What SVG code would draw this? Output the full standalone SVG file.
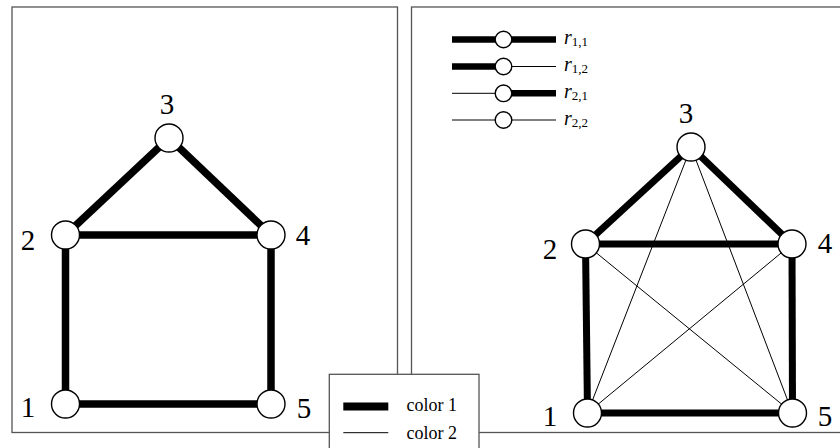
<svg xmlns="http://www.w3.org/2000/svg" width="840" height="448" viewBox="0 0 840 448">
<style>
.panel{fill:#fff;stroke:#555;stroke-width:1.3}
.thick{stroke:#000;stroke-width:7.5;stroke-linecap:butt;fill:none}
.thin{stroke:#000;stroke-width:1;fill:none}
.node{fill:#fff;stroke:#000;stroke-width:1.4}
text{font-family:"Liberation Serif","Times New Roman",Times,serif;fill:#000}
.lbl{font-size:29px;text-anchor:middle}
.leg{font-size:18px}
.r{font-size:20px;font-style:italic}
.sub{font-size:13px;font-style:normal}
</style>
<rect class="panel" x="12" y="7" width="385.5" height="425.5"/>
<rect class="panel" x="411.5" y="7" width="440" height="425.5"/>
<g id="connectors">
  <line class="thick" x1="65.5" y1="404" x2="65.5" y2="235"/>
  <line class="thick" x1="65.5" y1="235" x2="169" y2="138"/>
  <line class="thick" x1="169" y1="138" x2="271" y2="235"/>
  <line class="thick" x1="65.5" y1="235" x2="271" y2="235"/>
  <line class="thick" x1="271" y1="235" x2="271" y2="404"/>
  <line class="thick" x1="65.5" y1="404" x2="271" y2="404"/>
  <line class="thin" x1="691" y1="147" x2="587.5" y2="413"/>
  <line class="thin" x1="691" y1="147" x2="792.5" y2="413"/>
  <line class="thin" x1="585.5" y1="244" x2="792.5" y2="413"/>
  <line class="thin" x1="792" y1="244" x2="587.5" y2="413"/>
  <line class="thick" style="stroke-width:7" x1="587.5" y1="413" x2="585.5" y2="244"/>
  <line class="thick" style="stroke-width:7" x1="585.5" y1="244" x2="691" y2="147"/>
  <line class="thick" style="stroke-width:7" x1="691" y1="147" x2="792" y2="244"/>
  <line class="thick" style="stroke-width:7" x1="585.5" y1="244" x2="792" y2="244"/>
  <line class="thick" style="stroke-width:7" x1="792" y1="244" x2="792.5" y2="413"/>
  <line class="thick" style="stroke-width:7" x1="587.5" y1="413" x2="792.5" y2="413"/>
</g>
<g id="left-n1"><circle class="node" cx="65.5" cy="404" r="14"/><text class="lbl" x="28" y="417">1</text></g>
<g id="left-n2"><circle class="node" cx="65.5" cy="235" r="14"/><text class="lbl" x="28" y="250">2</text></g>
<g id="left-n3"><circle class="node" cx="169" cy="138" r="14"/><text class="lbl" x="167" y="114">3</text></g>
<g id="left-n4"><circle class="node" cx="271" cy="235" r="14"/><text class="lbl" x="303" y="245">4</text></g>
<g id="left-n5"><circle class="node" cx="271" cy="404" r="14"/><text class="lbl" x="304" y="418">5</text></g>
<g id="right-n1"><circle class="node" cx="587.5" cy="413" r="14"/><text class="lbl" x="550" y="426">1</text></g>
<g id="right-n2"><circle class="node" cx="585.5" cy="244" r="14"/><text class="lbl" x="550" y="259">2</text></g>
<g id="right-n3"><circle class="node" cx="691" cy="147" r="14"/><text class="lbl" x="686" y="123">3</text></g>
<g id="right-n4"><circle class="node" cx="792" cy="244" r="14"/><text class="lbl" x="825" y="253">4</text></g>
<g id="right-n5"><circle class="node" cx="792.5" cy="413" r="14"/><text class="lbl" x="825" y="426">5</text></g>
<g id="legend-r">
  <line class="thick" style="stroke-width:6.5" x1="452" y1="39.5" x2="556" y2="39.5"/>
  <circle class="node" cx="503.5" cy="39.5" r="8.3"/>
  <text class="r" x="564" y="44">r<tspan class="sub" dy="2">1,1</tspan></text>
  <line class="thick" style="stroke-width:6.5" x1="452" y1="66.5" x2="504" y2="66.5"/>
  <line class="thin" x1="504" y1="66.5" x2="556" y2="66.5"/>
  <circle class="node" cx="503.5" cy="66.5" r="8.3"/>
  <text class="r" x="564" y="71">r<tspan class="sub" dy="2">1,2</tspan></text>
  <line class="thin" x1="452" y1="93.3" x2="504" y2="93.3"/>
  <line class="thick" style="stroke-width:6.5" x1="504" y1="93.3" x2="556" y2="93.3"/>
  <circle class="node" cx="503.5" cy="93.3" r="8.3"/>
  <text class="r" x="564" y="97.8">r<tspan class="sub" dy="2">2,1</tspan></text>
  <line class="thin" x1="452" y1="120" x2="556" y2="120"/>
  <circle class="node" cx="503.5" cy="120" r="8.3"/>
  <text class="r" x="564" y="124.5">r<tspan class="sub" dy="2">2,2</tspan></text>
</g>
<g id="legend-color">
  <rect class="panel" x="329.3" y="374.3" width="149.7" height="80"/>
  <line class="thick" style="stroke-width:8" x1="343.3" y1="406.5" x2="388.3" y2="406.5"/>
  <text class="leg" x="406.5" y="411">color 1</text>
  <line class="thin" x1="343.3" y1="432.7" x2="388.3" y2="432.7"/>
  <text class="leg" x="406.5" y="438.5">color 2</text>
</g>
</svg>
